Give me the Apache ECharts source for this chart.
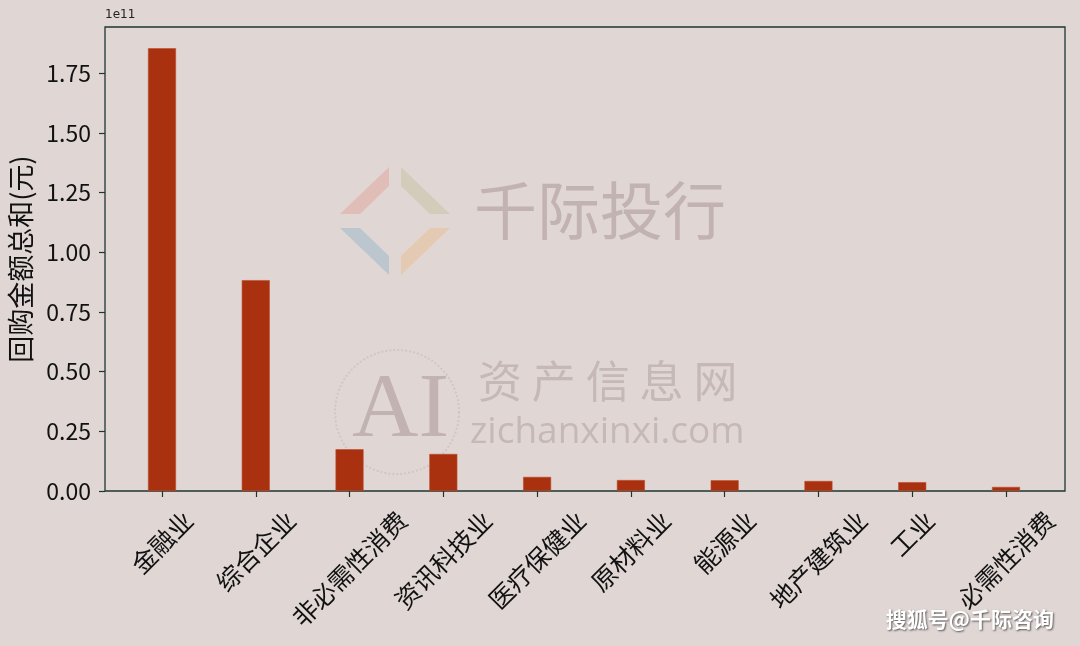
<!DOCTYPE html>
<html>
<head>
<meta charset="utf-8">
<script src="https://cdn.jsdelivr.net/npm/echarts@6/dist/echarts.min.js"></script>
<style>
html,body{margin:0;padding:0;background:#e0d7d5;}
#c{width:1080px;height:646px;}
</style>
</head>
<body>
<div id="c"></div>
<script>
// Data (values in 元)
const categories = ['金融业','综合企业','非必需性消费','资讯科技业','医疗保健业','原材料业','能源业','地产建筑业','工业','必需性消费'];
const values = [1.854e11, 0.883e11, 0.175e11, 0.155e11, 0.059e11, 0.046e11, 0.045e11, 0.042e11, 0.037e11, 0.017e11];
const yTicks = [0, 0.25e11, 0.5e11, 0.75e11, 1.0e11, 1.25e11, 1.5e11, 1.75e11];
const yMax = 1.943e11;

const FS = 25;
const cjk = '"Noto Sans CJK SC", "Noto Sans", sans-serif';
const rich = {};
[1,2,3,4,5,6,7,8].forEach(function (n) {
  const P = (n + 1) * FS / 2;
  rich['n' + n] = {
    fontSize: FS, lineHeight: FS, color: '#111', fontFamily: cjk,
    padding: [P, P, 0, 0]
  };
});

const chart = echarts.init(document.getElementById('c'), null, { renderer: 'canvas' });

function piece(points, color) {
  return { type: 'polygon', z: 1, shape: { points: points }, style: { fill: color, opacity: 0.55 }, silent: true };
}

chart.setOption({
  backgroundColor: '#e0d7d5',
  animation: false,
  grid: [
    { left: 105, right: 15, top: 27, bottom: 155, show: true, borderColor: '#1e3631', borderWidth: 1.3, backgroundColor: 'transparent', containLabel: false, outerBoundsMode: 'none' },
    { left: 115.1, right: 27.1, top: 27, bottom: 155, containLabel: false, outerBoundsMode: 'none' }
  ],
  xAxis: [
    { gridIndex: 0, type: 'value', show: false, min: 0, max: 1 },
    {
      gridIndex: 1, type: 'category', data: categories,
      axisLine: { show: false },
      axisTick: { show: true, alignWithLabel: true, length: 6, lineStyle: { color: '#1e3631', width: 1.2 } },
      axisLabel: {
        interval: 0, rotate: 45, align: 'center', verticalAlign: 'middle', margin: 16,
        color: '#111', fontSize: FS, lineHeight: FS, fontFamily: cjk,
        formatter: function (v) { return '{n' + v.length + '|' + v + '}'; },
        rich: rich
      }
    }
  ],
  yAxis: [
    { gridIndex: 0, type: 'value', show: false, min: 0, max: 1 },
    {
      gridIndex: 1, type: 'value', min: 0, max: yMax, offset: 10.1,
      name: '回购金额总和(元)', nameLocation: 'middle', nameGap: 71, nameRotate: 90,
      nameTextStyle: { color: '#111', fontSize: 27, fontFamily: cjk },
      splitLine: { show: false },
      axisLine: { show: false },
      axisTick: { show: true, length: 6, customValues: yTicks, lineStyle: { color: '#1e3631', width: 1.2 } },
      axisLabel: {
        customValues: yTicks, margin: 14, color: '#111', fontSize: 23, fontFamily: cjk,
        formatter: function (v) { return (v / 1e11).toFixed(2); }
      }
    }
  ],
  graphic: [
    { type: 'text', left: 105, top: 9, z: 10, style: { text: '1e11', fontSize: 12, fill: '#222', fontFamily: 'DejaVu Sans' } },
    // watermark logo
    piece([[340,214],[389,167],[389,186],[360,214]], '#e0a89e'),
    piece([[401,167],[450,214],[430,214],[401,186]], '#c8c3a6'),
    piece([[340,228],[360,228],[389,256],[389,275]], '#9fb8c8'),
    piece([[430,228],[450,228],[401,275],[401,256]], '#e8c096'),
    { type: 'text', left: 474, top: 179, z: 1, silent: true, style: { text: '千际投行', fontSize: 63, fill: '#c2b3b2', fontFamily: cjk } },
    { type: 'text', left: 478, top: 359, z: 1, silent: true, style: { text: '资 产 信 息 网', fontSize: 44, fill: '#c6b8b7', fontFamily: cjk } },
    { type: 'text', left: 470, top: 414, z: 1, silent: true, style: { text: 'zichanxinxi.com', fontSize: 37, fill: '#c6b8b7', fontFamily: '"Open Sans", sans-serif' } },
    { type: 'text', left: 352, top: 366, z: 1, silent: true, style: { text: 'AI', fontSize: 92, fill: '#c2b2b1', fontFamily: '"Liberation Serif", serif' } },
    { type: 'circle', z: 1, silent: true, shape: { cx: 397, cy: 412, r: 62 }, style: { fill: 'none', stroke: '#d2c6c4', lineWidth: 2, lineDash: [2, 2] } },
    // bottom-right credit
    { type: 'text', right: 26, top: 609, z: 20, style: { text: '搜狐号@千际咨询', fontSize: 21, fill: '#ffffff', fontFamily: cjk, fontWeight: 'bold', textShadowColor: 'rgba(0,0,0,0.6)', textShadowBlur: 2, textShadowOffsetX: 1, textShadowOffsetY: 1 } }
  ],
  series: [
    {
      type: 'bar', xAxisIndex: 1, yAxisIndex: 1, z: 2,
      data: values, barWidth: 28,
      itemStyle: { color: '#a93110', borderColor: '#c04a28', borderWidth: 0.6 }
    }
  ]
});
</script>
</body>
</html>
